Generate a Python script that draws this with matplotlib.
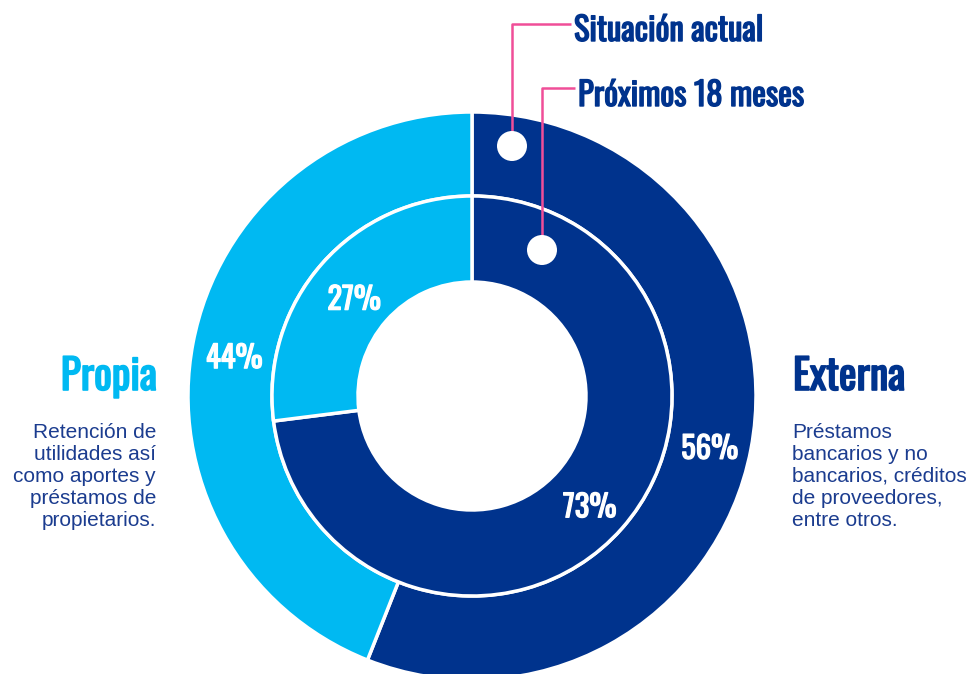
import matplotlib
matplotlib.use("Agg")
import matplotlib.pyplot as plt
from matplotlib.patches import Circle
import matplotlib.patheffects as pe

# ---- data ----
categories = ["Externa", "Propia"]
actual_values = [56, 44]       # Situación actual (outer ring)
next18_values = [73, 27]       # Próximos 18 meses (inner ring)
series_names = ["Situación actual", "Próximos 18 meses"]
descriptions = {
    "Propia": "Retención de\nutilidades así\ncomo aportes y\npréstamos de\npropietarios.",
    "Externa": "Préstamos\nbancarios y no\nbancarios, créditos\nde proveedores,\nentre otros.",
}

DARK = "#00338D"
LIGHT = "#00B9F2"
PINK = "#F04E98"
TXT = "#1B3C8F"
colors = [DARK, LIGHT]

W, H = 973, 674
fig = plt.figure(figsize=(W / 100, H / 100), dpi=100)
ax = fig.add_axes([0, 0, 1, 1])

cx, cy = 472, H - 396
R_out, w_out = 284, 84
R_in, w_in = 200, 86

cond = ["Oswald", "Barlow Condensed", "DejaVu Sans"]
reg = ["Liberation Sans", "DejaVu Sans"]


def heavy(color, lw=1.0):
    return [pe.withStroke(linewidth=lw, foreground=color)]


pct_props = dict(color="white", fontsize=22, family=cond)
_, _, at_out = ax.pie(actual_values, colors=colors, startangle=90, counterclock=False,
                      radius=R_out, center=(cx, cy),
                      wedgeprops=dict(width=w_out, edgecolor="white", linewidth=2.5),
                      autopct="%d%%", pctdistance=(R_out - w_out / 2) / R_out,
                      textprops=pct_props)
_, _, at_in = ax.pie(next18_values, colors=colors, startangle=90, counterclock=False,
                     radius=R_in, center=(cx, cy),
                     wedgeprops=dict(width=w_in, edgecolor="white", linewidth=2.5),
                     autopct="%d%%", pctdistance=(R_in - w_in / 2) / R_in,
                     textprops=pct_props)
for t in list(at_out) + list(at_in):
    x, y = t.get_position()
    t.set_position((x, y - 8))
    t.set_path_effects(heavy("white", 0.9))

ax.set_xlim(0, W)
ax.set_ylim(0, H)
ax.set_aspect("auto")
ax.axis("off")

# series markers & callouts
markers = [((512, 146), (574, 24, 41), series_names[0]),
           ((542, 250), (578, 88, 106), series_names[1])]
for (mx, my), (tx, ly, by), name in markers:
    ax.plot([tx - 3, mx, mx], [H - ly, H - ly, H - (my - 15)], color=PINK, lw=1.8,
            solid_capstyle="butt", zorder=5)
    ax.add_patch(Circle((mx, H - my), 15, facecolor="white", edgecolor="none", zorder=6))
    ax.text(tx, H - by, name, color=DARK, fontsize=23.5, family=cond,
            ha="left", va="baseline", zorder=7, path_effects=heavy(DARK, 1.0))

# category titles and descriptions
ax.text(157, H - 390, "Propia", color=LIGHT, fontsize=30, family=cond,
        ha="right", va="baseline", path_effects=heavy(LIGHT, 1.2))
ax.text(156, H - 423, descriptions["Propia"], color=TXT, fontsize=15,
        family=reg, ha="right", va="top", linespacing=1.2)
ax.text(793, H - 390, "Externa", color=DARK, fontsize=30, family=cond,
        ha="left", va="baseline", path_effects=heavy(DARK, 1.2))
ax.text(792, H - 423, descriptions["Externa"], color=TXT, fontsize=15,
        family=reg, ha="left", va="top", linespacing=1.2)

fig.savefig("out.png", dpi=100)
